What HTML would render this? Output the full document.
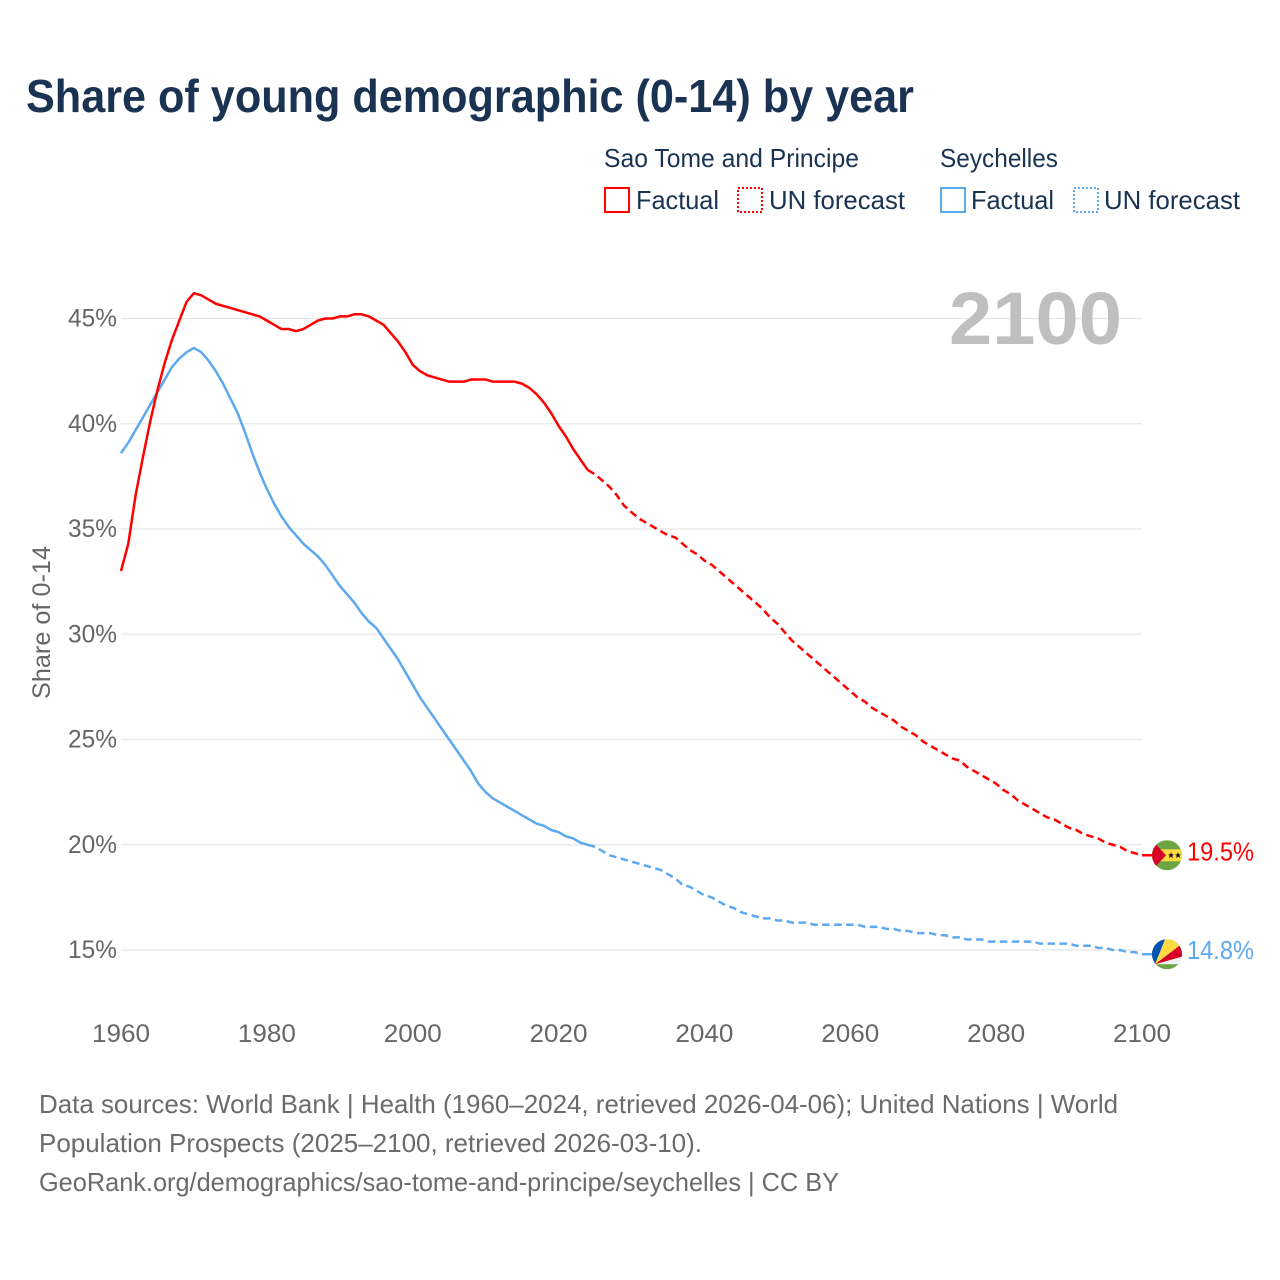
<!DOCTYPE html>
<html lang="en">
<head>
<meta charset="utf-8">
<title>Share of young demographic (0-14) by year</title>
<style>
html,body{margin:0;padding:0;background:#fff;width:1280px;height:1280px;overflow:hidden}
svg{display:block}
text{font-family:"Liberation Sans",sans-serif}
</style>
</head>
<body>
<svg id="chart" xmlns="http://www.w3.org/2000/svg" width="1280" height="1280" viewBox="0 0 1280 1280">
  <defs>
    <clipPath id="flagClipA"><circle cx="0" cy="0" r="15"/></clipPath>
    <clipPath id="flagClipB"><circle cx="0" cy="0" r="15"/></clipPath>
  </defs>
  <rect x="0" y="0" width="1280" height="1280" fill="#fff"/>
  <text x="26" y="112" font-size="46" font-weight="700" fill="#1a3352" textLength="888" lengthAdjust="spacingAndGlyphs">Share of young demographic (0-14) by year</text>

  <g font-size="26" fill="#1a3352">
    <text x="604" y="167" textLength="255" lengthAdjust="spacingAndGlyphs">Sao Tome and Principe</text>
    <text x="940" y="167" textLength="118" lengthAdjust="spacingAndGlyphs">Seychelles</text>
    <rect x="605" y="188" width="24" height="24" fill="none" stroke="#ff0000" stroke-width="2"/>
    <text x="636" y="209" textLength="83" lengthAdjust="spacingAndGlyphs">Factual</text>
    <rect x="738" y="188" width="24" height="24" fill="none" stroke="#ff0000" stroke-width="2" stroke-dasharray="2,2" shape-rendering="crispEdges"/>
    <text x="769" y="209" textLength="136" lengthAdjust="spacingAndGlyphs">UN forecast</text>
    <rect x="941" y="188" width="24" height="24" fill="none" stroke="#5da9f0" stroke-width="2"/>
    <text x="971" y="209" textLength="83" lengthAdjust="spacingAndGlyphs">Factual</text>
    <rect x="1074" y="188" width="24" height="24" fill="none" stroke="#5da9f0" stroke-width="2" stroke-dasharray="2,2" shape-rendering="crispEdges"/>
    <text x="1104" y="209" textLength="136" lengthAdjust="spacingAndGlyphs">UN forecast</text>
  </g>

  <g id="grid"></g>
  <text x="949" y="344" font-size="74" font-weight="700" fill="#bfbfbf" textLength="173" lengthAdjust="spacingAndGlyphs">2100</text>
  <g id="yTicks" font-size="25" fill="#666666" text-anchor="end"></g>
  <g id="xTicks" font-size="25" fill="#666666" text-anchor="middle"></g>
  <text transform="translate(50,699) rotate(-90)" font-size="25" fill="#666666" textLength="153" lengthAdjust="spacingAndGlyphs">Share of 0-14</text>
  <g id="series"></g>

  <g id="flagSao">
    <g clip-path="url(#flagClipA)">
      <rect x="-15" y="-15" width="30" height="30" fill="#6da544"/>
      <rect x="-15" y="-6" width="30" height="12" fill="#ffda44"/>
      <polygon points="-15,-15 -1,0 -15,15" fill="#d80027"/>
      <polygon points="4,-3 4.9,-0.9 7,-0.9 5.3,0.5 6,2.8 4,1.4 2,2.8 2.7,0.5 1,-0.9 3.1,-0.9" fill="#111"/>
      <polygon points="11,-3 11.9,-0.9 14,-0.9 12.3,0.5 13,2.8 11,1.4 9,2.8 9.7,0.5 8,-0.9 10.1,-0.9" fill="#111"/>
    </g>
  </g>
  <g id="flagSey">
    <g clip-path="url(#flagClipB)">
      <rect x="-15" y="-15" width="30" height="30" fill="#6da544"/>
      <polygon points="-12,10 20,1 20,10" fill="#f0f0f0"/>
      <polygon points="-12,10 20,-14.3 20,1" fill="#d80027"/>
      <polygon points="-12,10 -0.8,-18 20,-18 20,-14.3" fill="#ffda44"/>
      <polygon points="-12,10 -18,10 -18,-18 -0.8,-18" fill="#0052b4"/>
    </g>
  </g>
  <text id="labelSao" x="1187" font-size="26" fill="#ff0000" textLength="67" lengthAdjust="spacingAndGlyphs"></text>
  <text id="labelSey" x="1187" font-size="26" fill="#5da9f0" textLength="67" lengthAdjust="spacingAndGlyphs"></text>

  <g font-size="26" fill="#6b6b6b">
    <text x="39" y="1113" textLength="1079" lengthAdjust="spacingAndGlyphs">Data sources: World Bank | Health (1960–2024, retrieved 2026-04-06); United Nations | World</text>
    <text x="39" y="1152" textLength="663" lengthAdjust="spacingAndGlyphs">Population Prospects (2025–2100, retrieved 2026-03-10).</text>
    <text x="39" y="1191" textLength="800" lengthAdjust="spacingAndGlyphs">GeoRank.org/demographics/sao-tome-and-principe/seychelles | CC BY</text>
  </g>
</svg>
<script>
const yTickValues = [15, 20, 25, 30, 35, 40, 45];
const xTickYears = [1960, 1980, 2000, 2020, 2040, 2060, 2080, 2100];
const firstYear = 1960;

const saoTomeFactual = [
  33.0,34.3,36.6,38.4,40.1,41.6,42.9,44.0,44.9,45.8,
  46.2,46.1,45.9,45.7,45.6,45.5,45.4,45.3,45.2,45.1,
  44.9,44.7,44.5,44.5,44.4,44.5,44.7,44.9,45.0,45.0,
  45.1,45.1,45.2,45.2,45.1,44.9,44.7,44.3,43.9,43.4,
  42.8,42.5,42.3,42.2,42.1,42.0,42.0,42.0,42.1,42.1,
  42.1,42.0,42.0,42.0,42.0,41.9,41.7,41.4,41.0,40.5,
  39.9,39.4,38.8,38.3,37.8
];
const saoTomeForecast = [
  37.6,37.3,37.0,36.6,36.1,
  35.8,35.5,35.3,35.1,34.9,
  34.7,34.6,34.3,34.0,33.8,
  33.5,33.3,33.0,32.7,32.4,
  32.1,31.8,31.5,31.2,30.8,
  30.5,30.1,29.7,29.4,29.1,
  28.8,28.5,28.2,27.9,27.6,
  27.3,27.0,26.8,26.5,26.3,
  26.1,25.9,25.6,25.4,25.2,
  24.9,24.7,24.5,24.3,24.1,
  24.0,23.7,23.5,23.3,23.1,
  22.9,22.6,22.4,22.1,21.9,
  21.7,21.5,21.3,21.2,21.0,
  20.8,20.7,20.5,20.4,20.3,
  20.1,20.0,19.9,19.7,19.6,
  19.5
];
const seychellesFactual = [
  38.6,39.1,39.7,40.3,40.9,41.5,42.1,42.7,43.1,43.4,
  43.6,43.4,43.0,42.5,41.9,41.2,40.5,39.6,38.6,37.7,
  36.9,36.2,35.6,35.1,34.7,34.3,34.0,33.7,33.3,32.8,
  32.3,31.9,31.5,31.0,30.6,30.3,29.8,29.3,28.8,28.2,
  27.6,27.0,26.5,26.0,25.5,25.0,24.5,24.0,23.5,22.9,
  22.5,22.2,22.0,21.8,21.6,21.4,21.2,21.0,20.9,20.7,
  20.6,20.4,20.3,20.1,20.0
];
const seychellesForecast = [
  19.9,19.7,19.5,19.4,19.3,
  19.2,19.1,19.0,18.9,18.8,
  18.6,18.4,18.1,18.0,17.8,
  17.6,17.5,17.3,17.1,17.0,
  16.8,16.7,16.6,16.5,16.5,
  16.4,16.4,16.3,16.3,16.3,
  16.2,16.2,16.2,16.2,16.2,
  16.2,16.2,16.1,16.1,16.1,
  16.0,16.0,15.9,15.9,15.8,
  15.8,15.8,15.7,15.7,15.6,
  15.6,15.5,15.5,15.5,15.4,
  15.4,15.4,15.4,15.4,15.4,
  15.4,15.3,15.3,15.3,15.3,
  15.3,15.2,15.2,15.2,15.1,
  15.1,15.0,15.0,14.9,14.9,
  14.8
];

const SVG_NS = 'http://www.w3.org/2000/svg';
const plotLeft = 121, plotRight = 1142;
function xScale(year) { return plotLeft + (year - 1960) * (plotRight - plotLeft) / 140; }
function yScale(v) { return 950 - (v - 15) * 21.05; }

function pathFrom(values, startYear) {
  return values.map(function (v, i) {
    return (i ? 'L' : 'M') + xScale(startYear + i).toFixed(2) + ' ' + yScale(v).toFixed(2);
  }).join(' ');
}

const gridGroup = document.getElementById('grid');
const yTickGroup = document.getElementById('yTicks');
yTickValues.forEach(function (v) {
  const line = document.createElementNS(SVG_NS, 'line');
  
  
  line.setAttribute('x1', plotLeft);
  line.setAttribute('x2', plotRight);
  line.setAttribute('y1', yScale(v));
  line.setAttribute('y2', yScale(v));
  line.setAttribute('stroke', '#e8e8e8');
  line.setAttribute('stroke-width', '1.2');
  gridGroup.appendChild(line);

  const label = document.createElementNS(SVG_NS, 'text');
  
  
  label.setAttribute('x', 117);
  label.setAttribute('y', yScale(v) + 8);
  label.setAttribute('textLength', '49');
  label.setAttribute('lengthAdjust', 'spacingAndGlyphs');
  label.textContent = v + '%';
  yTickGroup.appendChild(label);
});

const xTickGroup = document.getElementById('xTicks');
xTickYears.forEach(function (year) {
  const label = document.createElementNS(SVG_NS, 'text');
  
  
  label.setAttribute('x', xScale(year));
  label.setAttribute('y', 1042);
  label.setAttribute('textLength', '58');
  label.setAttribute('lengthAdjust', 'spacingAndGlyphs');
  label.textContent = year;
  xTickGroup.appendChild(label);
});

const seriesGroup = document.getElementById('series');
function drawLine(d, color, dashed, name) {
  const p = document.createElementNS(SVG_NS, 'path');
  
  
  p.setAttribute('d', d);
  p.setAttribute('fill', 'none');
  p.setAttribute('stroke', color);
  p.setAttribute('stroke-width', '2.5');
  p.setAttribute('stroke-linejoin', 'round');
  if (dashed) p.setAttribute('stroke-dasharray', '7.5,4.5');
  seriesGroup.appendChild(p);
}

const forecastStart = firstYear + saoTomeFactual.length;
drawLine(pathFrom(seychellesFactual, firstYear), '#5da9f0', false, 'seychelles-factual-line');
drawLine(pathFrom([seychellesFactual[seychellesFactual.length - 1]].concat(seychellesForecast), forecastStart - 1), '#5da9f0', true, 'seychelles-forecast-line');
drawLine(pathFrom(saoTomeFactual, firstYear), '#ff0000', false, 'sao-tome-factual-line');
drawLine(pathFrom([saoTomeFactual[saoTomeFactual.length - 1]].concat(saoTomeForecast), forecastStart - 1), '#ff0000', true, 'sao-tome-forecast-line');

const saoLast = saoTomeForecast[saoTomeForecast.length - 1];
const seyLast = seychellesForecast[seychellesForecast.length - 1];
drawLine('M' + plotRight + ' ' + yScale(saoLast) + ' H' + (plotRight + 10), '#ff0000', false, 'sao-tome-flag-connector');
drawLine('M' + plotRight + ' ' + yScale(seyLast) + ' H' + (plotRight + 10), '#5da9f0', false, 'seychelles-flag-connector');

document.getElementById('flagSao').setAttribute('transform', 'translate(1167,' + yScale(saoLast) + ')');
document.getElementById('flagSey').setAttribute('transform', 'translate(1167,' + yScale(seyLast) + ')');
const labelSao = document.getElementById('labelSao');
labelSao.setAttribute('y', yScale(saoLast) + 5);
labelSao.textContent = saoLast.toFixed(1) + '%';
const labelSey = document.getElementById('labelSey');
labelSey.setAttribute('y', yScale(seyLast) + 5);
labelSey.textContent = seyLast.toFixed(1) + '%';
</script>
</body>
</html>
